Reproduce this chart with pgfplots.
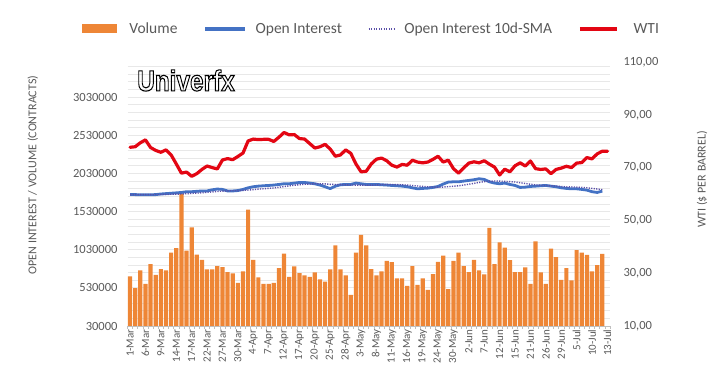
\documentclass[border=0pt]{standalone}
\usepackage{pgfplots}
\pgfplotsset{compat=1.18}
\usepackage{pgfplotstable}
\usepackage{fontspec}
\setmainfont{Carlito}
\newfontfamily\logofont{Liberation Sans}
\definecolor{volc}{HTML}{EE8636}
\definecolor{oic}{HTML}{4472C4}
\definecolor{smac}{HTML}{5A4FA8}
\definecolor{wtic}{HTML}{E30613}
\definecolor{textgray}{HTML}{595959}
\definecolor{gridmajor}{HTML}{D4D4D4}
\definecolor{gridminor}{HTML}{E8E8E8}
\definecolor{axisgray}{HTML}{BFBFBF}

\pgfplotstableread{
x vol oi sma wti
0 679 1754 1752 77.7
1 526 1752 1752 77.9
2 758 1750 1752 79.4
3 583 1750 1752 80.5
4 841 1750 1752 77.6
5 701 1752 1753 76.5
6 776 1760 1754 75.8
7 758 1765 1755 76.7
8 990 1770 1757 74.8
9 1052 1775 1758 71.4
10 1763 1780 1760 67.9
11 1017 1790 1764 68.3
12 1324 1790 1768 66.7
13 964 1795 1772 67.7
14 898 1800 1777 69.3
15 771 1800 1782 70.6
16 771 1815 1787 70.0
17 815 1825 1793 69.5
18 802 1820 1798 72.9
19 736 1800 1801 73.4
20 719 1800 1803 73.0
21 596 1805 1804 74.2
22 745 1820 1807 75.5
23 1556 1841 1812 80.1
24 898 1855 1817 80.8
25 666 1863 1824 80.6
26 583 1868 1829 80.7
27 583 1872 1834 80.7
28 596 1877 1839 79.9
29 789 1885 1848 81.5
30 977 1894 1857 83.3
31 675 1894 1866 82.4
32 811 1903 1875 82.5
33 723 1911 1882 81.0
34 692 1911 1887 80.8
35 675 1903 1891 79.1
36 732 1894 1894 77.4
37 640 1877 1894 77.9
38 613 1855 1892 78.8
39 771 1830 1887 77.0
40 1087 1863 1884 74.3
41 771 1881 1882 74.8
42 692 1885 1880 76.7
43 438 1885 1878 75.4
44 990 1903 1877 71.4
45 1223 1894 1876 68.4
46 1085 1885 1875 68.6
47 776 1885 1876 71.4
48 692 1885 1879 73.2
49 745 1881 1884 73.6
50 885 1877 1885 72.6
51 868 1872 1884 70.9
52 653 1868 1883 70.2
53 653 1863 1881 71.2
54 556 1855 1876 70.9
55 815 1841 1871 72.8
56 569 1828 1865 72.1
57 653 1833 1860 71.8
58 504 1837 1855 72.1
59 710 1846 1851 73.1
60 872 1859 1849 74.3
61 951 1890 1851 72.1
62 512 1916 1856 72.8
63 885 1920 1862 69.6
64 990 1920 1868 67.9
65 815 1929 1877 69.9
66 736 1938 1888 71.7
67 898 1947 1899 72.2
68 758 1960 1912 71.8
69 705 1951 1922 72.6
70 1315 1920 1928 71.3
71 841 1903 1930 70.2
72 1127 1894 1928 67.2
73 1056 1903 1926 69.4
74 894 1885 1922 68.4
75 736 1872 1917 70.7
76 736 1846 1908 71.8
77 798 1850 1898 70.6
78 583 1859 1888 72.5
79 1140 1863 1879 69.6
80 732 1868 1874 69.3
81 583 1872 1871 69.5
82 1043 1863 1868 67.7
83 934 1855 1863 69.3
84 635 1841 1858 69.8
85 790 1833 1854 70.5
86 627 1828 1853 70.0
87 1026 1828 1851 71.7
88 990 1820 1847 71.9
89 962 1811 1842 73.8
90 745 1790 1834 73.3
91 828 1780 1825 75.2
92 975 1798 1818 76.2
93 nan nan nan 76.2
}\data

\begin{document}
\begin{tikzpicture}
\useasboundingbox (0,0) rectangle (720pt,371pt);
\begin{axis}[
  at={(127.5pt,45pt)}, anchor=south west,
  scale only axis, width=482.5pt, height=264pt,
  xmin=-0.5, xmax=93.5,
  ymin=30, ymax=3490,
  axis x line*=bottom, axis y line*=left,
  y axis line style={draw=none},
  x axis line style={draw=axisgray, line width=0.7pt},
  xtick={0,3,...,93},
  xticklabels={1-Mar,6-Mar,9-Mar,14-Mar,17-Mar,22-Mar,27-Mar,30-Mar,4-Apr,7-Apr,12-Apr,17-Apr,20-Apr,25-Apr,28-Apr,3-May,8-May,11-May,16-May,19-May,24-May,30-May,2-Jun,7-Jun,12-Jun,15-Jun,21-Jun,26-Jun,29-Jun,5-Jul,10-Jul,13-Jul},
  minor xtick={-0.5,0.5,...,93.5},
  tick align=outside,
  major tick length=0pt, minor tick length=3pt,
  minor tick style={draw=axisgray, line width=0.6pt},
  ytick={30,130,...,3430},
  yticklabels={30000,{},{},{},{},530000,{},{},{},{},1030000,{},{},{},{},1530000,{},{},{},{},2030000,{},{},{},{},2530000,{},{},{},{},3030000,{},{},{},{}},
  ymajorgrids,
  major grid style={draw=gridminor, line width=0.7pt},
  extra y ticks={530,1030,1530,2030,2530,3030},
  extra y tick labels={},
  extra y tick style={grid style={draw=gridmajor, line width=0.7pt}},
  yticklabel style={font=\fontsize{12.5}{14}\selectfont, text=textgray, xshift=-6.5pt},
  xticklabel style={font=\fontsize{11}{13}\selectfont, text=textgray, rotate=90, anchor=east},
  ylabel={OPEN INTEREST / VOLUME (CONTRACTS)},
  every axis y label/.style={at={(axis description cs:-0.196,0.572)}, rotate=90, anchor=center, font=\fontsize{12}{14}\selectfont, text=textgray},
  legend columns=4,
  legend style={at={(0.506,1.125)}, anchor=center, draw=none, fill=none,
    font=\fontsize{15.5}{18}\selectfont, text=textgray,
    /tikz/every even column/.append style={column sep=24pt}},
]
\addplot[ybar, bar width=0.82, bar shift=0pt, fill=volc, draw=none,
  legend image code/.code={\fill[volc] (0pt,-4.5pt) rectangle (35pt,4.5pt); \path (45pt,0pt);}]
  table[x=x, y=vol] {\data};
\addlegendentry{Volume}
\addplot[oic, line width=2.8pt, line join=round,
  legend image code/.code={\draw[oic, line width=3.5pt] (0pt,0pt) -- (40pt,0pt); \path (47pt,0pt);}]
  table[x=x, y=oi] {\data};
\addlegendentry{Open Interest}
\addplot[smac, line width=1.4pt, dash pattern=on 1.2pt off 1.3pt,
  legend image code/.code={\draw[smac, line width=1.2pt, dash pattern=on 1.2pt off 1.3pt] (2pt,0pt) -- (28pt,0pt); \path (35pt,0pt);}]
  table[x=x, y=sma] {\data};
\addlegendentry{Open Interest 10d-SMA}
\addlegendimage{wtic, line width=3.5pt, legend image code/.code={\draw[wtic, line width=3.5pt] (0pt,0pt) -- (37pt,0pt); \path (50pt,0pt);}}
\addlegendentry{WTI}
\end{axis}
\begin{axis}[
  at={(127.5pt,45pt)}, anchor=south west,
  scale only axis, width=482.5pt, height=264pt,
  xmin=-0.5, xmax=93.5,
  ymin=10, ymax=110,
  axis x line=none, axis y line*=right,
  y axis line style={draw=none},
  major tick length=0pt,
  ytick={10,30,...,110},
  /pgf/number format/fixed, /pgf/number format/fixed zerofill,
  /pgf/number format/precision=2, /pgf/number format/use comma,
  /pgf/number format/assume math mode=true,
  yticklabel style={font=\fontsize{12.5}{14}\selectfont, text=textgray, xshift=10pt},
  ylabel={WTI (\$ PER BARREL)},
  every axis y label/.style={at={(axis description cs:1.191,0.555)}, rotate=90, anchor=center, font=\fontsize{12}{14}\selectfont, text=textgray},
]
\addplot[wtic, line width=3.2pt, line join=round, line cap=round] table[x=x, y=wti] {\data};
\end{axis}
\node[font=\logofont\bfseries\fontsize{29}{30}\selectfont, xscale=0.84, inner sep=0pt] at (186pt,290.5pt) {\special{pdf:code q 1 Tr 1.1 w 0 0 0 RG}Univerfx\special{pdf:code Q}};
\end{tikzpicture}
\end{document}
